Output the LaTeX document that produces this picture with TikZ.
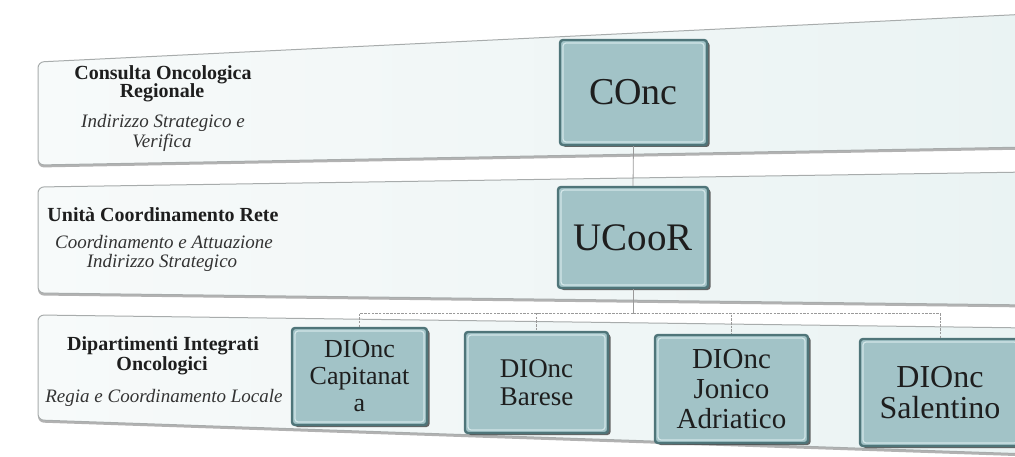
\documentclass[tikz,border=0pt]{standalone}
\usepackage{fontspec}
\setmainfont{Liberation Serif}
\usetikzlibrary{shadows}
\definecolor{boxfill}{HTML}{A2C3C7}
\definecolor{boxedge}{HTML}{4F7579}
\definecolor{boxlight}{HTML}{D2E6E8}
\definecolor{bandleft}{HTML}{F7FAFA}
\definecolor{bandright}{HTML}{EAF3F3}
\definecolor{bandedge}{HTML}{A8ACAC}
\definecolor{linkgray}{HTML}{9A9A9A}
\definecolor{txt}{HTML}{1E1E1E}
\begin{document}
\begin{tikzpicture}[x=1pt,y=-1pt,
  band/.style={rounded corners=6pt, left color=bandleft, right color=bandright, draw=bandedge, line width=1pt},
  bandshadow/.style={rounded corners=6pt, fill=black!30},
  orgbox/.style={draw=boxedge, line width=2.4pt, fill=boxfill, rounded corners=3pt, inner sep=0pt,
    align=center, text=txt,
    drop shadow={shadow xshift=2.5pt, shadow yshift=-2pt, fill=black!75, opacity=0.8},
    path picture={\draw[boxlight, line width=1.2pt]
      ([shift={(3pt,-3pt)}]path picture bounding box.north west) rectangle
      ([shift={(-3pt,3pt)}]path picture bounding box.south east);}},
  link/.style={draw=linkgray, line width=0.8pt},
  buslink/.style={draw=linkgray, line width=0.8pt, dash pattern=on 2.5pt off 1.2pt},
  lbold/.style={font=\fontsize{20}{20}\selectfont\bfseries, text=txt, anchor=base, inner sep=0pt},
  lital/.style={font=\fontsize{19}{19}\selectfont\itshape, text=black!80, anchor=base, inner sep=0pt}
]
\useasboundingbox (0,0) rectangle (1015,457);
\fill[white] (0,0) rectangle (1015,457);
\clip (0,0) rectangle (1015,457);

% bands
\fill[bandshadow] (38,64.5) -- (1030,16.5) -- (1030,149.5) -- (38,167.5) -- cycle;
\path[band] (38,62) -- (1030,14) -- (1030,147) -- (38,165) -- cycle;
\fill[bandshadow] (38,189.5) -- (1030,174.5) -- (1030,307.5) -- (38,295.5) -- cycle;
\path[band] (38,187) -- (1030,172) -- (1030,305) -- (38,293) -- cycle;
\fill[bandshadow] (38,317.5) -- (1030,330.5) -- (1030,456.5) -- (38,422.5) -- cycle;
\path[band] (38,315) -- (1030,328) -- (1030,454) -- (38,420) -- cycle;

% boxes
\node[orgbox, minimum width=147pt, minimum height=105pt, font=\fontsize{38}{38}\selectfont] (conc) at (633.5,92.5) {COnc};
\node[orgbox, minimum width=150pt, minimum height=101pt, font=\fontsize{39}{39}\selectfont] (ucoor) at (633,237.5) {UCooR};
\node[orgbox, minimum width=135pt, minimum height=97pt, font=\fontsize{26}{27}\selectfont] (cap) at (359.5,376.5) {DIOnc\\Capitanat\\a};
\node[orgbox, minimum width=143pt, minimum height=101pt, font=\fontsize{27}{28}\selectfont] (bar) at (536.5,382.5) {DIOnc\\Barese};
\node[orgbox, minimum width=153pt, minimum height=108pt, font=\fontsize{29}{30}\selectfont] (jon) at (731.5,389) {DIOnc\\Jonico\\Adriatico};
\node[orgbox, minimum width=160pt, minimum height=107pt, font=\fontsize{32}{31}\selectfont] (sal) at (940,392.5) {DIOnc\\Salentino};

% connectors
\coordinate (bus) at ([yshift=-24pt]ucoor.south);
\draw[link] (conc.south) -- (ucoor.north);
\draw[link] (ucoor.south) -- (bus);
\draw[buslink] (bus) -| (cap.north);
\draw[buslink] (bus) -| (bar.north);
\draw[buslink] (bus) -| (jon.north);
\draw[buslink] (bus) -| (sal.north);

% left labels
\node[lbold] (l1a) at (163,80) {Consulta Oncologica};
\node[lbold] (l1b) at (162,98) {Regionale};
\node[lital] (l1c) at (163,128) {Indirizzo Strategico e};
\node[lital] (l1d) at (162,148) {Verifica};
\node[lbold] (l2a) at (163,222) {Unità Coordinamento Rete};
\node[lital] (l2b) at (164,248) {Coordinamento e Attuazione};
\node[lital] (l2c) at (162,268) {Indirizzo Strategico};
\node[lbold] (l3a) at (163,350) {Dipartimenti Integrati};
\node[lbold] (l3b) at (162,370) {Oncologici};
\node[lital] (l3c) at (164,402) {Regia e Coordinamento Locale};
\end{tikzpicture}
\end{document}
